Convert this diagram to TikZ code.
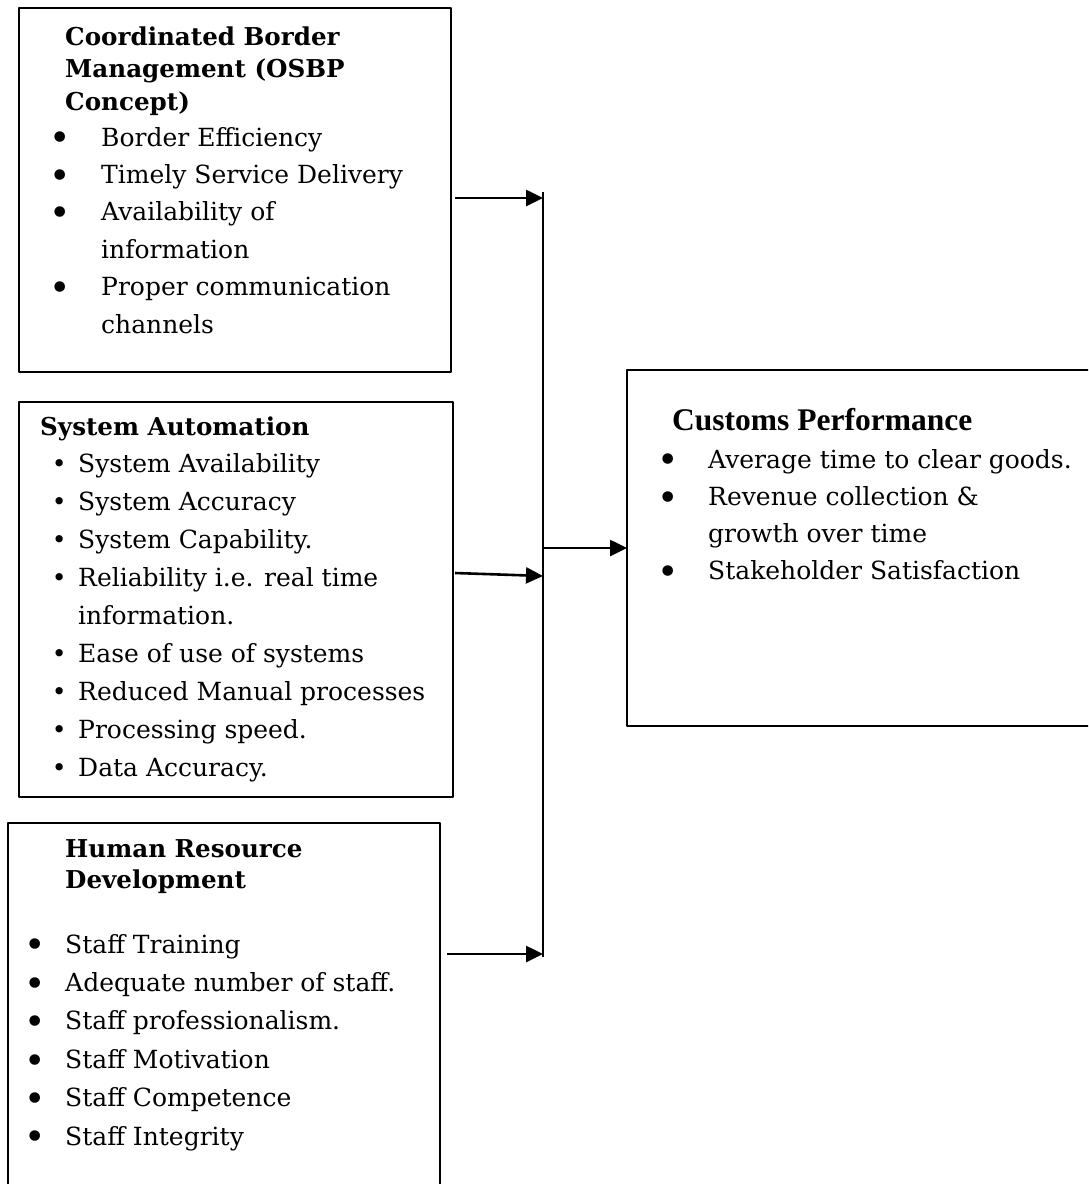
\documentclass[tikz,border=0pt]{standalone}
\usepackage{fontspec}
\setmainfont{DejaVu Serif}
\newfontfamily\ttlfont{Liberation Serif}
\usepackage{tikz}
\usetikzlibrary{arrows.meta,calc,positioning}
\tikzset{boxf/.style={draw,line width=2.6pt,anchor=north west,inner sep=0pt,outer sep=0pt},
  lst/.style={anchor=base west,inner sep=0pt},
  ttl/.style={anchor=base west,inner sep=0pt,font=\bfseries\fontsize{24.6}{32.5}\selectfont},
  arr/.style={-{Triangle[length=17pt,width=16pt]},line width=2.6pt},
  bus/.style={line width=1.3pt}}
\newcommand\bul{\makebox[0pt]{\raisebox{-4.8pt}{\scalebox{1.45}{\textbullet}}}}
\newcommand\sbul{\makebox[0pt]{\textbullet}}

\begin{document}
\begin{tikzpicture}[x=1pt,y=-1pt,line join=round]
\useasboundingbox (0,0) rectangle (1088,1184);
\clip (0,0) rectangle (1088,1184);
% --- the three factor boxes
\node[boxf,minimum width=432pt,minimum height=364pt] (cbm) at (19,8) {};
\node[boxf,minimum width=434pt,minimum height=395pt] (sa) at (19,402) {};
\node[boxf,minimum width=432pt,minimum height=375pt] (hrd) at (8,823) {};
% --- outcome box
\node[boxf,minimum width=470pt,minimum height=356pt] (cp) at (627,370) {};

% --- texts
\node[ttl] (cbmt) at (65,45) {\begin{tabular}[t]{@{}l@{}}Coordinated Border\\ Management (OSBP\\ Concept)\end{tabular}};
\node[lst,font=\fontsize{25}{37.4}\selectfont] (cbml) at (60,146) {\begin{tabular}[t]{@{}p{41pt}@{}l@{}}
\bul & Border Efficiency\\ \bul & Timely Service Delivery\\ \bul & Availability of\\ & information\\
\bul & Proper communication\\ & channels\end{tabular}};
\node[ttl] (sat) at (40,435) {System Automation};
\node[lst,font=\fontsize{25}{38.1}\selectfont] (sal) at (59,472) {\begin{tabular}[t]{@{}p{19pt}@{}l@{}}
\sbul & System Availability\\ \sbul & System Accuracy\\ \sbul & System Capability.\\
\sbul & Reliability i.e. real time\\ & information.\\ \sbul & Ease of use of systems\\
\sbul & Reduced Manual processes\\ \sbul & Processing speed.\\ \sbul & Data Accuracy.\end{tabular}};
\node[ttl,font=\bfseries\fontsize{24.6}{31}\selectfont] (hrdt) at (65,857) {\begin{tabular}[t]{@{}l@{}}Human Resource\\ Development\end{tabular}};
\node[lst,font=\fontsize{25}{38.4}\selectfont] (hrdl) at (35,953) {\begin{tabular}[t]{@{}p{30pt}@{}l@{}}
\bul & Staff Training\\ \bul & Adequate number of staff.\\ \bul & Staff professionalism.\\
\bul & Staff Motivation\\ \bul & Staff Competence\\ \bul & Staff Integrity\end{tabular}};
\node[ttl,font=\ttlfont\bfseries\fontsize{31.5}{37}\selectfont] (cpt) at (672,430) {Customs Performance};
\node[lst,font=\fontsize{25}{37.3}\selectfont] (cpl) at (668,468) {\begin{tabular}[t]{@{}p{40pt}@{}l@{}}
\bul & Average time to clear goods.\\ \bul & Revenue collection \&\\ & growth over time\\
\bul & Stakeholder Satisfaction\end{tabular}};

% --- connectors
\coordinate (bustop) at (543,192);
\coordinate (busbot) at (543,957);
\coordinate (in1) at (543,198);
\coordinate (in2) at (543,576);
\coordinate (in3) at (543,954);
\draw[bus] (bustop) -- (busbot);
\draw[arr] ($(cbm.east |- in1)+(4,0)$) -- (in1);
\draw[arr] ($(sa.east)+(2,-26.5)$) -- (in2);
\draw[arr] ($(hrd.east |- in3)+(7,0)$) -- (in3);
\draw[arr] (cp.west -| bustop) -- (cp.west);
\end{tikzpicture}
\end{document}
